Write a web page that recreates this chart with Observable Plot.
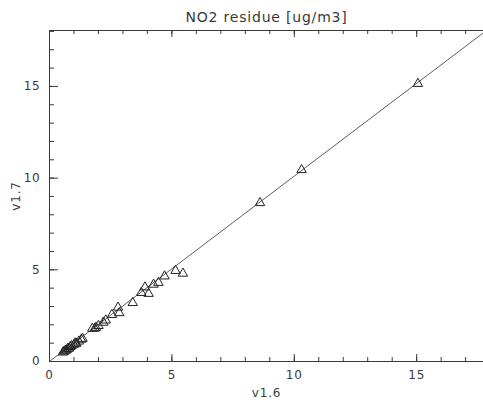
<!DOCTYPE html>
<html>
<head>
<meta charset="utf-8">
<script src="https://cdn.jsdelivr.net/npm/d3@7"></script>
<script src="https://cdn.jsdelivr.net/npm/@observablehq/plot@0.6"></script>
<style>
  body { margin: 0; background: #fff; }
  svg { font-family: "DejaVu Sans", sans-serif; }
  svg text { letter-spacing: 0.8px; }
</style>
</head>
<body>
<div id="chart"></div>
<script>
const title = "NO2 residue [ug/m3]";
const xLabel = "v1.6";
const yLabel = "v1.7";

const v16 = [0.55, 0.6, 0.65, 0.7, 0.75, 0.8, 0.85, 0.9, 1.0, 1.05, 1.1, 1.2, 1.3, 1.35,
             1.75, 1.85, 1.9, 2.0, 2.2, 2.3, 2.55, 2.85, 2.8, 3.4, 3.75, 4.05, 3.9, 4.25, 4.45, 4.7, 5.15, 5.45,
             8.6, 10.3, 15.05];
const v17 = [0.5, 0.55, 0.6, 0.62, 0.7, 0.72, 0.8, 0.85, 0.92, 1.0, 0.98, 1.1, 1.2, 1.25,
             1.8, 1.8, 1.85, 1.95, 2.13, 2.25, 2.55, 2.65, 2.95, 3.2, 3.75, 3.7, 4.05, 4.2, 4.3, 4.65, 4.95, 4.8,
             8.65, 10.45, 15.15];

const fitX = [0, 17.8];
const fitY = [0, 18.0];

const xDomain = [0, 17.73];
const yDomain = [0, 18.05];
const majorTicks = [0, 5, 10, 15];
const minorX = d3.range(0, 18, 1);
const minorY = d3.range(0, 19, 1);

const points = v16.map((x, i) => ({x, y: v17[i]}));
const fit = fitX.map((x, i) => ({x, y: fitY[i]}));

const W = 483, H = 402, mT = 30, mB = 41, mL = 49, mR = 0;
const pH = H - mT - mB, pW = W - mL - mR;
const ink = "#3a3a3a";

const chart = Plot.plot({
  width: W, height: H,
  marginTop: mT, marginBottom: mB, marginLeft: mL, marginRight: mR,
  style: {fontSize: "12px", fontFamily: "DejaVu Sans, sans-serif", color: ink, background: "#fff"},
  x: {domain: xDomain},
  y: {domain: yDomain},
  marks: [
    Plot.ruleY([yDomain[0]], {stroke: ink}),
    Plot.ruleY([yDomain[1]], {stroke: ink}),
    Plot.ruleX([xDomain[0]], {stroke: ink}),
    Plot.ruleX(minorX, {stroke: ink, insetTop: pH - 4}),
    Plot.ruleX(majorTicks, {stroke: ink, insetTop: pH - 7}),
    Plot.ruleX(minorX, {stroke: ink, insetBottom: pH - 4}),
    Plot.ruleX(majorTicks, {stroke: ink, insetBottom: pH - 7}),
    Plot.ruleY(minorY.filter(v => v <= yDomain[1]), {stroke: ink, insetRight: pW - 5}),
    Plot.ruleY(majorTicks, {stroke: ink, insetRight: pW - 9}),
    Plot.axisX(majorTicks, {tickSize: 0, tickPadding: 9, label: xLabel, labelAnchor: "center", labelArrow: "none", labelOffset: 35, fill: ink}),
    Plot.axisY(majorTicks, {tickSize: 0, tickPadding: 9, label: yLabel, labelAnchor: "center", labelArrow: "none", labelOffset: 38, fill: ink}),
    Plot.line(fit, {x: "x", y: "y", stroke: "#333", strokeWidth: 0.8, clip: true}),
    Plot.dot(points, {x: "x", y: "y", symbol: "triangle", r: 3.5, stroke: "#222", strokeWidth: 1, fill: "none"}),
    Plot.text([title], {frameAnchor: "top", dy: -18, fontSize: 14, fill: ink})
  ]
});
document.getElementById("chart").appendChild(chart);
</script>
</body>
</html>
